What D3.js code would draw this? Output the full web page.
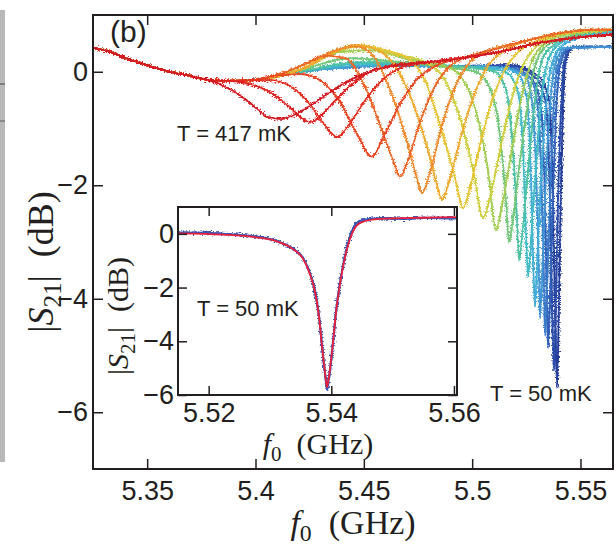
<!DOCTYPE html>
<html>
<head>
<meta charset="utf-8">
<script src="https://cdn.jsdelivr.net/npm/d3@7"></script>
<style>
  body { margin: 0; background: #fff; }
  svg { display: block; }
  .tick text { font-family: "Liberation Sans", Arial, sans-serif; fill: #231f20; }
  .tick line { stroke: #231f20; stroke-width: 1.5; }
  .lbl { font-family: "Liberation Sans", Arial, sans-serif; fill: #231f20; }
  .math { font-family: "Liberation Serif", "Times New Roman", serif; fill: #231f20; }
</style>
</head>
<body>
<script>
// tick values
const xTicks = [5.35, 5.4, 5.45, 5.5, 5.55];
const yTicks = [0, -2, -4, -6];
const insetXTicks = [5.52, 5.54, 5.56];
const insetYTicks = [0, -2, -4, -6];

// shared low-frequency part of every trace [f (GHz), |S21| (dB)]
const leftBand = [[5.3250,0.42],[5.3328,0.35],[5.3421,0.21],[5.3513,0.10],[5.3605,0.00],
  [5.3698,-0.07],[5.3790,-0.15],[5.3882,-0.16],[5.3975,-0.15]];

// traces, coldest (50 mK) first, hottest (417 mK) last
const c0 = [[5.4205,0.00],[5.4575,0.10],[5.4898,0.10],[5.5175,0.12],[5.5304,-0.07],[5.5355,-0.50],[5.5373,-2.26],
  [5.5382,-4.02],[5.5392,-5.57],[5.5401,-4.02],[5.5410,-2.08],[5.5419,-0.67],[5.5433,0.21],[5.5470,0.44],[5.5650,0.45]];
const c1 = [[5.4205,0.00],[5.4575,0.10],[5.4898,0.10],[5.5175,0.10],[5.5295,-0.11],[5.5341,-0.59],[5.5359,-2.26],
  [5.5368,-4.02],[5.5378,-5.26],[5.5387,-4.02],[5.5396,-2.26],[5.5410,-0.67],[5.5424,0.17],[5.5461,0.42],[5.5650,0.44]];
const c2 = [[5.4205,0.00],[5.4575,0.10],[5.4898,0.10],[5.5175,0.07],[5.5281,-0.15],[5.5318,-0.67],[5.5336,-2.26],
  [5.5345,-4.02],[5.5350,-4.87],[5.5359,-4.02],[5.5373,-2.26],[5.5387,-0.76],[5.5410,0.17],[5.5451,0.42],[5.5650,0.44]];
const c3 = [[5.4205,0.00],[5.4575,0.10],[5.4898,0.10],[5.5152,0.07],[5.5267,-0.11],[5.5304,-0.67],[5.5322,-2.26],
  [5.5332,-3.85],[5.5336,-4.64],[5.5345,-3.85],[5.5359,-2.26],[5.5373,-0.85],[5.5396,0.12],[5.5442,0.42],[5.5650,0.44]];
const c4 = [[5.4205,0.00],[5.4575,0.10],[5.4898,0.10],[5.5152,0.07],[5.5244,-0.07],[5.5281,-0.67],[5.5299,-2.26],
  [5.5309,-3.67],[5.5313,-4.34],[5.5322,-3.67],[5.5336,-2.26],[5.5355,-0.85],[5.5382,0.12],[5.5428,0.42],[5.5650,0.44]];
const c5 = [[5.4205,0.00],[5.4575,0.12],[5.4898,0.10],[5.5128,0.07],[5.5212,-0.04],[5.5253,-0.50],[5.5272,-1.91],
  [5.5281,-3.32],[5.5290,-4.13],[5.5299,-3.49],[5.5313,-2.26],[5.5336,-0.85],[5.5364,0.07],[5.5405,0.42],[5.5521,0.63],[5.5650,0.70]];
const c6 = [[5.4205,0.00],[5.4482,0.14],[5.4759,0.12],[5.5036,0.07],[5.5152,0.00],[5.5207,-0.29],[5.5235,-1.38],
  [5.5248,-2.79],[5.5258,-3.62],[5.5272,-2.96],[5.5290,-1.91],[5.5313,-0.76],[5.5341,0.07],[5.5382,0.42],[5.5498,0.65],[5.5650,0.72]];
const c7 = [[5.4205,0.00],[5.4482,0.17],[5.4759,0.14],[5.4990,0.07],[5.5105,0.00],[5.5156,-0.32],[5.5188,-1.38],
  [5.5207,-2.61],[5.5216,-3.32],[5.5235,-2.70],[5.5258,-1.73],[5.5285,-0.67],[5.5313,0.07],[5.5359,0.42],[5.5474,0.63],[5.5650,0.74]];
const c8 = [[5.4205,0.03],[5.4436,0.24],[5.4667,0.17],[5.4898,0.07],[5.5014,0.00],[5.5082,-0.29],[5.5128,-1.11],
  [5.5156,-2.26],[5.5170,-3.00],[5.5193,-2.44],[5.5221,-1.56],[5.5253,-0.67],[5.5285,0.03],[5.5332,0.42],[5.5451,0.63],[5.5650,0.74]];
const c9 = [[5.4205,0.03],[5.4390,0.35],[5.4528,0.38],[5.4713,0.21],[5.4875,0.10],[5.4953,-0.11],[5.5018,-0.71],
  [5.5073,-1.73],[5.5110,-2.79],[5.5138,-2.35],[5.5175,-1.56],[5.5216,-0.67],[5.5258,0.00],[5.5313,0.42],[5.5428,0.65],[5.5650,0.74]];
const c10 = [[5.4205,0.03],[5.4367,0.35],[5.4482,0.45],[5.4644,0.31],[5.4782,0.17],[5.4875,-0.15],[5.4944,-0.82],
  [5.5009,-1.82],[5.5050,-2.58],[5.5082,-2.22],[5.5124,-1.47],[5.5175,-0.59],[5.5230,0.07],[5.5290,0.42],[5.5405,0.65],[5.5650,0.74]];
const c11 = [[5.4205,0.03],[5.4344,0.31],[5.4459,0.47],[5.4598,0.38],[5.4713,0.21],[5.4782,-0.15],[5.4852,-0.94],
  [5.4921,-1.87],[5.4958,-2.40],[5.4990,-2.05],[5.5036,-1.29],[5.5092,-0.50],[5.5156,0.07],[5.5221,0.38],[5.5313,0.56],[5.5451,0.70],[5.5650,0.74]];
const c12 = [[5.4205,0.03],[5.4344,0.31],[5.4459,0.47],[5.4565,0.38],[5.4644,0.10],[5.4722,-0.50],[5.4796,-1.38],
  [5.4838,-2.00],[5.4861,-2.26],[5.4893,-1.94],[5.4944,-1.20],[5.5009,-0.41],[5.5073,0.10],[5.5152,0.38],[5.5267,0.56],[5.5405,0.68],[5.5544,0.74],[5.5650,0.74]];
const c13 = [[5.4113,-0.04],[5.4252,0.17],[5.4367,0.38],[5.4459,0.45],[5.4537,0.31],[5.4612,-0.23],[5.4690,-1.11],
  [5.4741,-1.82],[5.4768,-2.14],[5.4806,-1.77],[5.4861,-0.94],[5.4925,-0.23],[5.4990,0.17],[5.5082,0.38],[5.5221,0.52],[5.5405,0.68],[5.5544,0.74],[5.5650,0.74]];
const c14 = [[5.4113,-0.04],[5.4228,0.14],[5.4321,0.28],[5.4413,0.24],[5.4491,-0.15],[5.4575,-0.94],[5.4635,-1.56],
  [5.4667,-1.85],[5.4704,-1.56],[5.4759,-0.89],[5.4829,-0.25],[5.4898,0.10],[5.4990,0.28],[5.5128,0.42],[5.5221,0.52],[5.5405,0.68],[5.5544,0.74],[5.5650,0.74]];
const c15 = [[5.4090,-0.07],[5.4205,-0.04],[5.4298,-0.15],[5.4390,-0.53],[5.4473,-1.13],[5.4537,-1.50],[5.4593,-1.13],
  [5.4667,-0.57],[5.4741,-0.15],[5.4829,0.10],[5.4944,0.24],[5.5128,0.35],[5.5313,0.51],[5.5498,0.61],[5.5650,0.65]];
const c16 = [[5.4067,-0.15],[5.4159,-0.25],[5.4242,-0.53],[5.4316,-0.92],[5.4376,-1.15],[5.4427,-0.96],[5.4501,-0.53],
  [5.4584,-0.15],[5.4676,0.08],[5.4806,0.17],[5.4944,0.24],[5.5128,0.35],[5.5313,0.51],[5.5498,0.61],[5.5650,0.65]];
const c17 = [[5.3975,-0.22],[5.4067,-0.36],[5.4150,-0.60],[5.4215,-0.82],[5.4252,-0.89],[5.4288,-0.82],[5.4353,-0.57],
  [5.4436,-0.25],[5.4528,0.00],[5.4644,0.12],[5.4806,0.17],[5.4944,0.24],[5.5128,0.35],[5.5313,0.51],[5.5498,0.61],[5.5650,0.65]];
const c18 = [[5.3873,-0.29],[5.3952,-0.48],[5.4012,-0.67],[5.4058,-0.80],[5.4113,-0.83],[5.4168,-0.78],[5.4252,-0.60],
  [5.4344,-0.36],[5.4436,-0.15],[5.4552,0.03],[5.4713,0.14],[5.4898,0.21],[5.5128,0.35],[5.5313,0.51],[5.5498,0.61],[5.5650,0.65]];
const traces = [c0, c1, c2, c3, c4, c5, c6, c7, c8, c9, c10, c11, c12, c13, c14, c15, c16, c17, c18];

// inset: 50 mK measurement and its fit
const insetData = [[5.5149,0.05],[5.5190,0.04],[5.5223,0.00],[5.5250,-0.04],[5.5277,-0.10],[5.5310,-0.25],[5.5337,-0.55],
  [5.5354,-0.90],[5.5365,-1.45],[5.5373,-2.08],[5.5380,-3.08],[5.5385,-4.20],[5.5390,-5.25],[5.5393,-5.80],[5.5396,-5.40],
  [5.5402,-4.25],[5.5408,-2.85],[5.5416,-1.58],[5.5425,-0.55],[5.5436,0.22],[5.5449,0.50],[5.5479,0.58],[5.5520,0.56],
  [5.5550,0.60],[5.5604,0.58]];
const insetFit = [[5.5149,0.02],[5.5223,-0.03],[5.5277,-0.13],[5.5310,-0.27],[5.5337,-0.56],[5.5354,-0.93],[5.5365,-1.49],
  [5.5373,-2.11],[5.5380,-3.10],[5.5385,-4.22],[5.5390,-5.21],[5.5393,-5.71],[5.5396,-5.34],[5.5402,-4.22],[5.5408,-2.86],
  [5.5416,-1.62],[5.5425,-0.62],[5.5436,0.12],[5.5449,0.43],[5.5479,0.56],[5.5550,0.60],[5.5604,0.62]];

const W = 616, H = 548;
const main = { left: 93, right: 613, top: 15, bottom: 469 };
const ins = { left: 178, right: 457, top: 207, bottom: 395 };
const ink = "#231f20";

const svg = d3.select("body").append("svg").attr("width", W).attr("height", H);
const defs = svg.append("defs");

// jitter filter to give the traces a measured, noisy look
const noise = defs.append("filter").attr("id", "noise")
  .attr("filterUnits", "userSpaceOnUse").attr("x", 0).attr("y", 0).attr("width", W).attr("height", H);
noise.append("feTurbulence").attr("type", "fractalNoise").attr("baseFrequency", "0.55 0.8")
  .attr("numOctaves", 2).attr("seed", 4).attr("result", "t");
noise.append("feDisplacementMap").attr("in", "SourceGraphic").attr("in2", "t")
  .attr("scale", 6).attr("xChannelSelector", "R").attr("yChannelSelector", "G");

defs.append("clipPath").attr("id", "clipMain").append("rect")
  .attr("x", main.left).attr("y", main.top)
  .attr("width", main.right - main.left).attr("height", main.bottom - main.top);
defs.append("clipPath").attr("id", "clipInset").append("rect")
  .attr("x", ins.left).attr("y", ins.top)
  .attr("width", ins.right - ins.left).attr("height", ins.bottom - ins.top);

// grey edge of the neighbouring panel
svg.append("rect").attr("x", 0).attr("y", 10).attr("width", 5).attr("height", 452).attr("fill", "#b9b9b9");
svg.append("rect").attr("x", 0).attr("y", 83).attr("width", 5).attr("height", 2).attr("fill", "#7d7d7d");
svg.append("rect").attr("x", 0).attr("y", 120).attr("width", 5).attr("height", 2).attr("fill", "#8a8a8a");

// ---------- main panel ----------
const x = d3.scaleLinear().domain([5.325, 5.565]).range([main.left, main.right]);
const y = d3.scaleLinear().domain([-7, 1]).range([main.bottom, main.top]);

const palette = ["#233a98", "#2c4eaa", "#3468c0", "#3f8ad0", "#42a8dc", "#3dbdc8", "#4cc29c",
  "#84c866", "#c2d03e", "#e8cc34", "#f0aa2e", "#ee822a", "#ea5826", "#e43322", "#e0201f", "#d21a24"];
const color = d3.scaleSequential(d3.interpolateRgbBasis(palette)).domain([0, traces.length - 1]);

const line = d3.line().x(d => x(d[0])).y(d => y(d[1])).curve(d3.curveMonotoneX);
const full = traces.map(t => leftBand.filter(p => p[0] < t[0][0]).concat(t));

const gm = svg.append("g").attr("clip-path", "url(#clipMain)");
const trace = gm.selectAll("g").data(full).join("g");
trace.append("path").attr("d", line).attr("fill", "none")
  .attr("stroke", (d, i) => color(i)).attr("stroke-width", 1.1);
trace.append("path").attr("d", line).attr("fill", "none").attr("filter", "url(#noise)")
  .attr("stroke", (d, i) => color(i)).attr("stroke-width", 2);

function frame(box, xs, ys, xv, yv, tick, pads) {
  const gx = svg.append("g").attr("transform", `translate(0,${box.bottom})`)
    .call(d3.axisBottom(xs).tickValues(xv).tickFormat(d3.format("")).tickSizeInner(-tick).tickSizeOuter(0).tickPadding(pads[0]));
  const gy = svg.append("g").attr("transform", `translate(${box.left},0)`)
    .call(d3.axisLeft(ys).tickValues(yv).tickFormat(d3.format("")).tickSizeInner(-tick).tickSizeOuter(0).tickPadding(pads[1]));
  const gt = svg.append("g").attr("transform", `translate(0,${box.top})`)
    .call(d3.axisTop(xs).tickValues(xv).tickFormat("").tickSizeInner(-tick).tickSizeOuter(0));
  const gr = svg.append("g").attr("transform", `translate(${box.right},0)`)
    .call(d3.axisRight(ys).tickValues(yv).tickFormat("").tickSizeInner(-tick).tickSizeOuter(0));
  [gx, gy, gt, gr].forEach(g => g.select(".domain").remove());
  [gx, gy].forEach(g => g.selectAll(".tick text").attr("font-size", 27));
  svg.append("rect").attr("x", box.left).attr("y", box.top)
    .attr("width", box.right - box.left).attr("height", box.bottom - box.top)
    .attr("fill", "none").attr("stroke", ink).attr("stroke-width", 2);
}

frame(main, x, y, xTicks, yTicks, 10, [12, 5]);

// ---------- inset ----------
svg.append("rect").attr("x", ins.left).attr("y", ins.top)
  .attr("width", ins.right - ins.left).attr("height", ins.bottom - ins.top).attr("fill", "#fff");

const xi = d3.scaleLinear().domain([5.515, 5.5605]).range([ins.left, ins.right]);
const yi = d3.scaleLinear().domain([-6, 1]).range([ins.bottom, ins.top]);
const lineI = d3.line().x(d => xi(d[0])).y(d => yi(d[1])).curve(d3.curveMonotoneX);

const gi = svg.append("g").attr("clip-path", "url(#clipInset)");
gi.append("path").datum(insetData).attr("d", lineI).attr("fill", "none")
  .attr("stroke", "#3a55b4").attr("stroke-width", 2);
gi.append("path").datum(insetData).attr("d", lineI).attr("fill", "none").attr("filter", "url(#noise)")
  .attr("stroke", "#3a55b4").attr("stroke-width", 2.4);
gi.append("path").datum(insetFit).attr("d", lineI).attr("fill", "none")
  .attr("stroke", "#e8203c").attr("stroke-width", 1.8);

frame(ins, xi, yi, insetXTicks, insetYTicks, 9, [8, 4]);

// ---------- labels ----------
function sLabel(tx, ty, size) {
  const t = svg.append("text").attr("class", "math").attr("font-size", size)
    .attr("text-anchor", "middle").attr("transform", `translate(${tx},${ty}) rotate(-90)`);
  t.append("tspan").text("|");
  t.append("tspan").attr("font-style", "italic").text("S");
  t.append("tspan").attr("font-size", size * 0.7).attr("dy", size * 0.22).text("21");
  t.append("tspan").attr("dy", -size * 0.22).text("|\u2002(dB)");
}
function fLabel(tx, ty, size) {
  const t = svg.append("text").attr("class", "math").attr("font-size", size)
    .attr("text-anchor", "middle").attr("x", tx).attr("y", ty);
  t.append("tspan").attr("font-style", "italic").text("f");
  t.append("tspan").attr("font-size", size * 0.7).attr("dy", size * 0.22).text("0");
  t.append("tspan").attr("dy", -size * 0.22).text("\u2002(GHz)");
}

sLabel(53, 262, 36);
fLabel(353, 534, 34);
sLabel(128, 316, 30);
fLabel(318, 454, 30);

svg.append("text").attr("class", "lbl").attr("x", 110).attr("y", 42).attr("font-size", 30).text("(b)");
svg.append("text").attr("class", "lbl").attr("x", 177).attr("y", 141).attr("font-size", 22).text("T = 417 mK");
svg.append("text").attr("class", "lbl").attr("x", 490).attr("y", 401).attr("font-size", 22).text("T = 50 mK");
svg.append("text").attr("class", "lbl").attr("x", 197).attr("y", 316).attr("font-size", 22).text("T = 50 mK");
</script>
</body>
</html>
